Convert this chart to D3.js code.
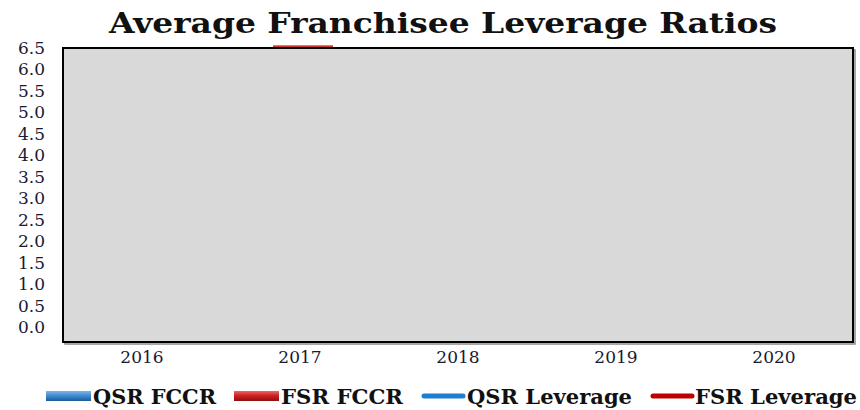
<!DOCTYPE html>
<html><head><meta charset="utf-8">
<script src="https://cdn.jsdelivr.net/npm/d3@7"></script>
<style>html,body{margin:0;padding:0;background:#fff;}svg{display:block;}</style>
</head><body><svg id="c" width="860" height="410"></svg>
<script>
const title = "Average Franchisee Leverage Ratios";
const years = ["2016","2017","2018","2019","2020"];
const yTicks = [0,0.5,1,1.5,2,2.5,3,3.5,4,4.5,5,5.5,6,6.5];
// Only the top of one FSR FCCR bar (2017) is visible above the plot area; other values are not visible.
const qsrFccr = [null,null,null,null,null];
const fsrFccr = [null,6.55,null,null,null];
const qsrLeverage = [null,null,null,null,null];
const fsrLeverage = [null,null,null,null,null];
const legendLabels = ["QSR FCCR","FSR FCCR","QSR Leverage","FSR Leverage"];

const svg = d3.select("#c");
const plot = {x0:63, x1:853, y0:48, y1:342};
const x = d3.scaleBand().domain(years).range([plot.x0, plot.x1]).paddingInner(0).paddingOuter(0);
const y = d3.scaleLinear().domain([0,6.5]).range([327,47.5]);
const bw = 60;

// title
svg.append("text").attr("x",443).attr("y",33).attr("text-anchor","middle")
  .attr("font-family","DejaVu Serif").attr("font-weight","bold").attr("font-size",28)
  .attr("textLength",668).attr("lengthAdjust","spacingAndGlyphs").attr("fill","#111").text(title);

// bars (drawn beneath the plot background as in the reference)
const gBars = svg.append("g");
gBars.selectAll("rect.f").data(years.map((d,i)=>({year:d,v:fsrFccr[i]})).filter(d=>d.v!=null))
  .enter().append("rect")
  .attr("x",d=>x(d.year)+x.bandwidth()/2-bw/2+3).attr("width",bw)
  .attr("y",d=>y(d.v)).attr("height",d=>y(0)-y(d.v))
  .attr("fill","#d32f2f");
gBars.selectAll("rect.q").data(years.map((d,i)=>({year:d,v:qsrFccr[i]})).filter(d=>d.v!=null))
  .enter().append("rect")
  .attr("x",d=>x(d.year)+x.bandwidth()/2-bw/2).attr("width",bw)
  .attr("y",d=>y(d.v)).attr("height",d=>y(0)-y(d.v)).attr("fill","#2e75b6");

// plot area shadow + background
svg.append("rect").attr("x",plot.x0+2).attr("y",plot.y0+2).attr("width",plot.x1-plot.x0).attr("height",plot.y1-plot.y0)
  .attr("fill","none").attr("stroke","#8a8a8a").attr("stroke-width",1.5);
svg.append("rect").attr("x",plot.x0).attr("y",plot.y0).attr("width",plot.x1-plot.x0).attr("height",plot.y1-plot.y0)
  .attr("fill","#d9d9d9").attr("stroke","#000").attr("stroke-width",2);

// y tick labels
svg.append("g").selectAll("text").data(yTicks).enter().append("text")
  .attr("x",45).attr("y",d=>y(d)).attr("dy","0.36em").attr("text-anchor","end")
  .attr("font-family","DejaVu Serif").attr("font-size",17).attr("fill","#1a1a33")
  .text(d=>d3.format(".1f")(d));

// x labels
svg.append("g").selectAll("text").data(years).enter().append("text")
  .attr("x",d=>x(d)+x.bandwidth()/2).attr("y",357).attr("dy","0.36em").attr("text-anchor","middle")
  .attr("font-family","DejaVu Serif").attr("font-size",17).attr("fill","#1a1a33")
  .text(d=>d);

// legend
const defs = svg.append("defs");
function grad(id,c1,c2,c3){
  const g = defs.append("linearGradient").attr("id",id).attr("x1",0).attr("y1",0).attr("x2",0).attr("y2",1);
  g.append("stop").attr("offset","0%").attr("stop-color",c1);
  g.append("stop").attr("offset","45%").attr("stop-color",c2);
  g.append("stop").attr("offset","100%").attr("stop-color",c3);
}
grad("gb","#7fb6e6","#3d8fd6","#1c5a94");
grad("gr","#e86a6a","#d42020","#8e1010");
const leg = [
  {label:legendLabels[0], type:"rect", fill:"url(#gb)", sx:46, tx:93, tw:123},
  {label:legendLabels[1], type:"rect", fill:"url(#gr)", sx:234, tx:281, tw:122},
  {label:legendLabels[2], type:"line", fill:"#1f7fcf", sx:421, tx:467, tw:165},
  {label:legendLabels[3], type:"line", fill:"#c00000", sx:650, tx:695, tw:162}
];
const ly = 396;
const lg = svg.append("g");
leg.forEach(d=>{
  if(d.type==="rect"){
    lg.append("rect").attr("x",d.sx).attr("y",ly-5).attr("width",45).attr("height",10).attr("fill",d.fill);
  } else {
    lg.append("line").attr("x1",d.sx+3).attr("x2",d.sx+42).attr("y1",ly).attr("y2",ly)
      .attr("stroke",d.fill).attr("stroke-width",5).attr("stroke-linecap","round");
  }
  lg.append("text").attr("x",d.tx).attr("y",ly).attr("dy","0.36em")
    .attr("font-family","DejaVu Serif").attr("font-weight","bold").attr("font-size",21)
    .attr("textLength",d.tw).attr("lengthAdjust","spacingAndGlyphs").attr("fill","#111").text(d.label);
});
</script></body></html>
